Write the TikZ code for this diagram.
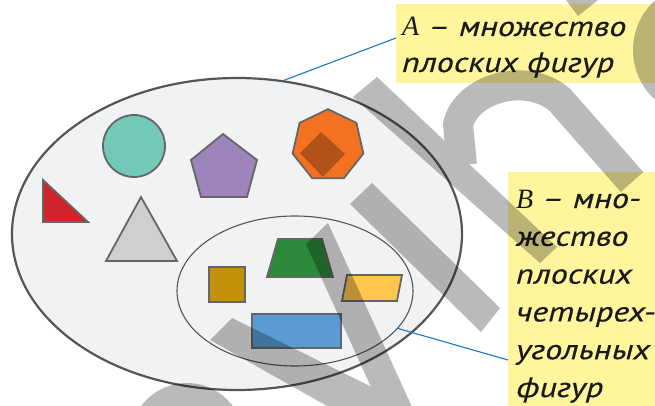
\documentclass[tikz,border=0pt]{standalone}
\usepackage{fontspec}
\usetikzlibrary{shapes.geometric,calc}
\newfontfamily\lblfont[FakeStretch=1.22,FakeBold=0.5]{PT Sans}
\newfontfamily\letterfont{Liberation Serif}
\definecolor{ellfill}{HTML}{F1F2F4}
\definecolor{ellline}{HTML}{555555}
\definecolor{shline}{HTML}{666666}
\definecolor{lblyellow}{HTML}{FFF59D}
\definecolor{conncol}{HTML}{1A78C8}
\definecolor{cteal}{HTML}{72C9B8}
\definecolor{cpurple}{HTML}{9D85BC}
\definecolor{corange}{HTML}{F47121}
\definecolor{cred}{HTML}{D1232B}
\definecolor{clgray}{HTML}{CFCFCF}
\definecolor{cbrown}{HTML}{C49009}
\definecolor{cgreen}{HTML}{2B8B3B}
\definecolor{cyellow}{HTML}{FFC54C}
\definecolor{cblue}{HTML}{5B9BD5}
\definecolor{txtcol}{HTML}{1A1A1A}
\begin{document}
\begin{tikzpicture}[x=1pt,y=-1pt,
  fig/.style={draw=shline, line width=1.8pt, line join=miter},
  conn/.style={draw=conncol, line width=1.1pt},
  lblbox/.style={fill=lblyellow, inner sep=0pt, anchor=north west},
  lbltext/.style={anchor=base west, inner sep=0pt, text=txtcol, font=\lblfont\itshape\fontsize{28}{36}\selectfont},
  wmstroke/.style={draw=black, line width=30pt}
  ]
\useasboundingbox (0,0) rectangle (655,406);
% sets
\node[ellipse, draw=ellline, fill=ellfill, line width=2.2pt, minimum width=450pt, minimum height=312pt, inner sep=0pt] (setA) at (237,234) {};
\node[ellipse, draw=ellline, line width=1.1pt, minimum width=236pt, minimum height=150pt, inner sep=0pt] (setB) at (295,291) {};
% figures
\filldraw[fig, fill=cteal] (134,146) circle[radius=31];
\filldraw[fig, fill=cpurple] (223,134) -- (257,160) -- (247,197) -- (201,197) -- (191,160) -- cycle;
\filldraw[fig, fill=corange] (328,109.2) -- (299.6,122.9) -- (292.6,153.6) -- (312.2,178.2) -- (343.8,178.2) -- (363.4,153.6) -- (356.4,122.9) -- cycle;
\filldraw[fig, fill=cred] (43,180) -- (43,222) -- (88,222) -- cycle;
\filldraw[fig, fill=clgray] (141,197) -- (177,261) -- (106,261) -- cycle;
\filldraw[fig, fill=cbrown] (209,267) rectangle (245,302);
\filldraw[fig, fill=cgreen] (278,239) -- (322,239) -- (333,277) -- (267,277) -- cycle;
\filldraw[fig, fill=cyellow] (347,275) -- (402,275) -- (397,301) -- (342,301) -- cycle;
\filldraw[fig, fill=cblue] (252,314) rectangle (341,348);
% label boxes
\node[lblbox, minimum width=262pt, minimum height=79pt] (boxA) at (396,4) {};
\node[lblbox, minimum width=150pt, minimum height=240pt] (boxB) at (508,172) {};
\node[lbltext] (txtA1) at (402,36) {{\letterfont A} – множество};
\node[lbltext] (txtA2) at (402,72) {плоских фигур};
\node[lbltext] (txtB1) at (516,208) {{\letterfont B} – мно-};
\node[lbltext] (txtB2) at (516,245.8) {жество};
\node[lbltext] (txtB3) at (516,283.6) {плоских};
\node[lbltext] (txtB4) at (516,321.4) {четырех-};
\node[lbltext] (txtB5) at (516,359.2) {угольных};
\node[lbltext] (txtB6) at (516,397) {фигур};
% connectors
\draw[conn] (setA.73) -- ($(boxA.north west)+(0,34)$);
\draw[conn] (setB.-20) -- ($(boxB.north west)+(0,188)$);
% watermark
\begin{scope}[transparency group, opacity=0.27]
\fill[black] (328,223) -- (306,244) -- (386,420) -- (418,420) -- cycle;
\fill[black] (232,318) -- (380,391) -- (392,420) -- (352,420) -- (210,340) -- cycle;
\fill[black] (372,183) -- (350,204) -- (481,332) -- (500,308) -- cycle;
\fill[black] (377,77) -- (353,97) -- (540,263) -- (557,247) -- cycle;
\fill[black] (321,132) -- (345,154) -- (323,177) -- (300,153) -- cycle;
\fill[black] (566,0) -- (598,0) -- (578,16) -- cycle;
\draw[wmstroke] (462,165) -- (458,125) .. controls (465,90) and (525,70) .. (560,100) -- (632,182);
\draw[wmstroke] (700,50) circle[radius=52];
\draw[wmstroke] (187,440) circle[radius=42];
\end{scope}
\end{tikzpicture}
\end{document}
